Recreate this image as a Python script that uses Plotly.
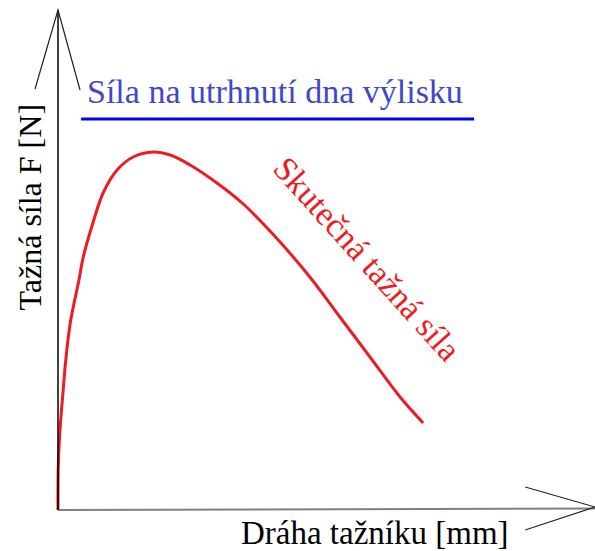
import plotly.graph_objects as go

# travel of the punch (arbitrary units) and the real drawing force
draw_x = [0, 0.05, 0.37, 0.93, 1.4, 2.3, 3.9, 4.7, 6.5, 8.4, 11.0, 14.0, 17.7, 20.9,
          24.6, 29.6, 34.5, 40.0, 46.9, 52.5, 58.1, 63.7, 68.0]
draw_force = [0, 8.6, 16, 23.5, 29.5, 37.5, 46, 50.6, 57.4, 63.4, 68, 70.6, 71.6, 71,
              69, 65.4, 61.2, 55.2, 46.6, 38.6, 30.6, 22.6, 17.4]

# force needed to tear off the bottom of the drawn part (constant)
tear_x = [4.3, 77.5]
tear_force = [78.2, 78.2]

FONT = "Liberation Serif, Times New Roman, serif"
RED = "#ed1c24"

fig = go.Figure()
fig.add_trace(go.Scatter(x=draw_x, y=draw_force, mode='lines',
                         line=dict(color=RED, width=3, shape='spline', smoothing=1.0),
                         showlegend=False))
fig.add_trace(go.Scatter(x=tear_x, y=tear_force, mode='lines',
                         line=dict(color='#0000ff', width=3), showlegend=False))

# axes drawn by hand with open arrow heads
shapes = [
    dict(type='line', x0=0, y0=0, x1=100, y1=0.3, line=dict(color='#808080', width=2)),
    dict(type='line', x0=0, y0=0, x1=0, y1=100, line=dict(color='black', width=1.5)),
    dict(type='path', path='M -4.28,84.2 L 0,100 L 4.1,84.0', line=dict(color='#222', width=1.2)),
    dict(type='path', path='M 87,4.6 L 100,0.6 L 87,-4.0', line=dict(color='#222', width=1.2)),
]

annotations = [
    dict(x=40.5, y=83.8, text="Síla na utrhnutí dna výlisku", showarrow=False,
         font=dict(family=FONT, size=34, color='#3f48cc')),
    dict(x=57.7, y=50.2, text="Skutečná tažná síla", showarrow=False, textangle=48,
         font=dict(family=FONT, size=34, color=RED)),
    dict(x=-5.3, y=60.6, text="Tažná síla F [N]", showarrow=False, textangle=-90,
         font=dict(family=FONT, size=32, color='black')),
    dict(x=59.0, y=-4.5, text="Dráha tažníku [mm]", showarrow=False,
         font=dict(family=FONT, size=33, color='black')),
]

fig.update_layout(
    width=595, height=551,
    margin=dict(l=0, r=0, t=0, b=0),
    plot_bgcolor='white', paper_bgcolor='white',
    shapes=shapes, annotations=annotations,
    xaxis=dict(range=[-58 / 5.37, 537 / 5.37], visible=False, fixedrange=True),
    yaxis=dict(range=[-41 / 5, 510 / 5], visible=False, fixedrange=True),
)

# drop the default page margin so the figure sits at the window's corner
fig.write_html("out.html", config={'displayModeBar': False},
               post_script="document.body.style.margin='0';")
